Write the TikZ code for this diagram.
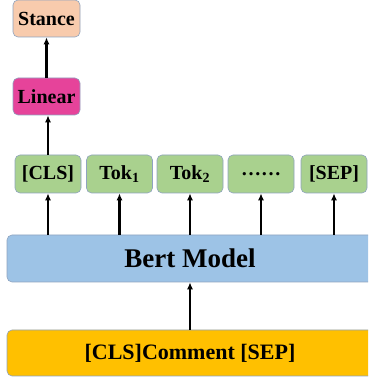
\documentclass[tikz,border=0pt]{standalone}
\usepackage{fontspec}
\setmainfont{Liberation Serif}
\usetikzlibrary{arrows.meta}
\usetikzlibrary{positioning}

\definecolor{stancefill}{HTML}{F8CBAD}
\definecolor{linearfill}{HTML}{E6439A}
\definecolor{tokfill}{HTML}{A9D18E}
\definecolor{bertfill}{HTML}{9DC3E6}
\definecolor{inputfill}{HTML}{FFC000}
\definecolor{edgeline}{HTML}{8FA3BF}

\tikzset{
  box/.style={rectangle,rounded corners=5pt,draw=edgeline,line width=0.6pt,font=\bfseries\fontsize{20}{22}\selectfont,inner sep=0pt},
  tokbox/.style={box,fill=tokfill,minimum width=66pt,minimum height=38pt},
  arr/.style={-{Latex[length=7pt,width=6pt]},line width=2.4pt,black}
}

\begin{document}
\begin{tikzpicture}[x=1pt,y=1pt]
\useasboundingbox (0,0) rectangle (368,378);
\begin{scope}
\clip (0,0) rectangle (368,378);
\node[box,fill=stancefill,minimum width=67pt,minimum height=37pt] (stance) at (46.5,359.5) {Stance};
\node[box,fill=linearfill,minimum width=67pt,minimum height=37pt] (linear) at (46.5,281.5) {Linear};

\node[tokbox] (cls) at (48,204) {[CLS]};
\node[tokbox] (tok1) at (119.5,204) {Tok\textsubscript{1}};
\node[tokbox] (tok2) at (190,204) {Tok\textsubscript{2}};
\node[tokbox] (dots) at (261,204) {\dots\dots};
\node[tokbox] (sep) at (334,204) {[SEP]};

\node[box,fill=bertfill,minimum width=367pt,minimum height=47pt] (bert) at (190.5,119.5) {};
\node[font=\bfseries\fontsize{27}{30}\selectfont] (bertlabel) at (190,119.5) {Bert Model};
\node[box,fill=inputfill,minimum width=367pt,minimum height=46pt] (input) at (190.5,25) {};
\node[font=\bfseries\fontsize{22}{24}\selectfont] (inputlabel) at (190,25) {[CLS]Comment [SEP]};
\end{scope}

% arrows
\draw[arr] (linear.north) -- (stance.south);
\draw[arr] (bert.north -| cls) -- (cls.south);
\draw[arr] (cls.north) -- (linear.south -| cls);
\draw[arr] (bert.north -| tok1) -- (tok1.south);
\draw[arr] (bert.north -| tok2) -- (tok2.south);
\draw[arr] (bert.north -| dots) -- (dots.south);
\draw[arr] (bert.north -| sep) -- (sep.south);
\draw[arr] (input.north -| bertlabel) -- (bert.south -| bertlabel);

\end{tikzpicture}
\end{document}
